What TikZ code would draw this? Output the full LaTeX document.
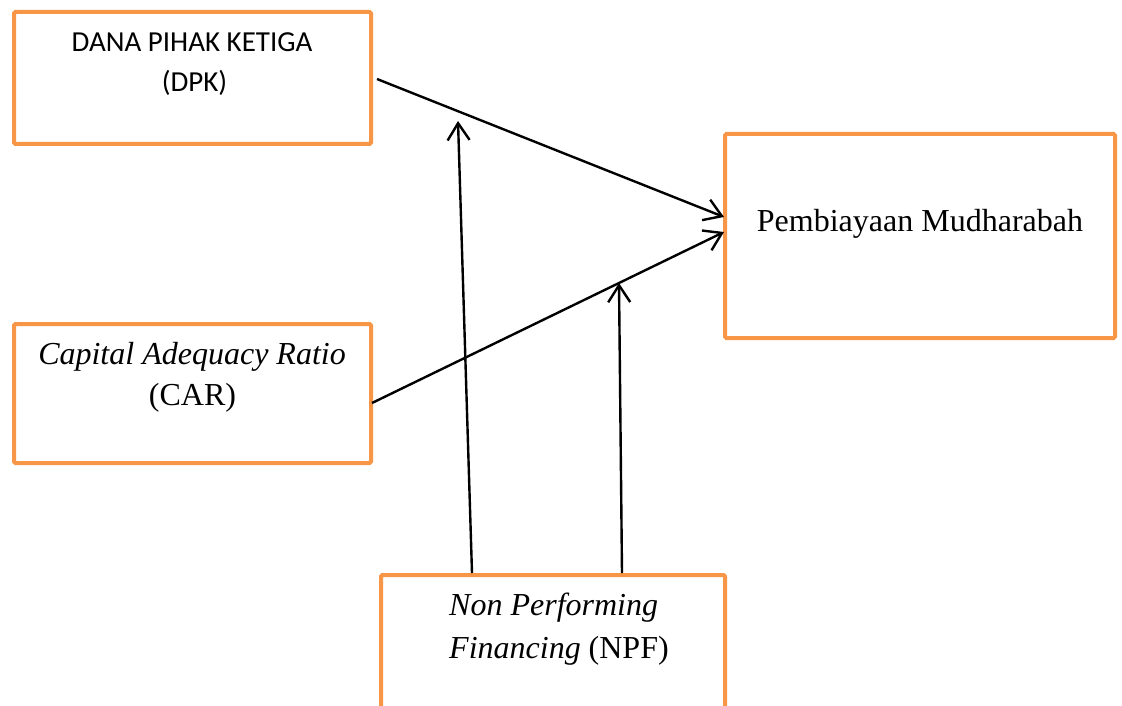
\documentclass[tikz,border=0pt]{standalone}
\usepackage{fontspec}
\setmainfont{Liberation Serif}
\newfontfamily\calibrifont{Carlito}
\usetikzlibrary{arrows.meta}
\definecolor{boxorange}{HTML}{F79646}
\tikzset{
  box/.style={draw=boxorange, line width=4pt, rounded corners=1.5pt, inner sep=0pt, outer sep=0pt},
  serif/.style={font=\fontsize{32}{40}\selectfont, anchor=base, inner sep=0pt},
  sans/.style={font=\calibrifont\fontsize{29}{38}\selectfont, anchor=base, inner sep=0pt},
  link/.style={draw=black, line width=2.4pt, -{Straight Barb[length=17pt,width=22pt]}}
}
\begin{document}
\begin{tikzpicture}[x=1pt,y=-1pt]
\fill[white] (0,0) rectangle (1122,706);
\clip (0,0) rectangle (1122,706);
% boxes
\node[box, minimum width=357pt, minimum height=132pt] (dpk) at (192.5,78) {};
\node[box, minimum width=357pt, minimum height=139pt] (car) at (192.5,393.5) {};
\node[box, minimum width=344pt, minimum height=170pt] (npf) at (553,660) {};
\node[box, minimum width=390pt, minimum height=204pt] (pemb) at (920,236) {};
% texts
\node[sans] (dpk1) at (192,52) {DANA PIHAK KETIGA};
\node[sans] (dpk2) at (194.5,92) {(DPK)};
\node[serif] (car1) at (192,364) {\itshape Capital Adequacy Ratio};
\node[serif] (car2) at (192.5,405) {(CAR)};
\node[serif, anchor=base west] (npf1) at (449,615) {\itshape Non Performing};
\node[serif, anchor=base west] (npf2) at (449,658) {\textit{Financing} (NPF)};
\node[serif] (pemb1) at (920,231) {Pembiayaan Mudharabah};
% connector ends
\coordinate (dpkout) at (377,79);
\coordinate (carout) at (372,403);
\coordinate (pin1) at (724,217);
\coordinate (pin2) at (724,232);
\coordinate (npfout1) at (472,573);
\coordinate (npfout2) at (622,573);
\coordinate (mod1) at (458,121);
\coordinate (mod2) at (619,283);
% connectors
\draw[link] (dpkout) -- (pin1);
\draw[link] (carout) -- (pin2);
\draw[link] (npfout1) -- (mod1);
\draw[link] (npfout2) -- (mod2);
\end{tikzpicture}
\end{document}
